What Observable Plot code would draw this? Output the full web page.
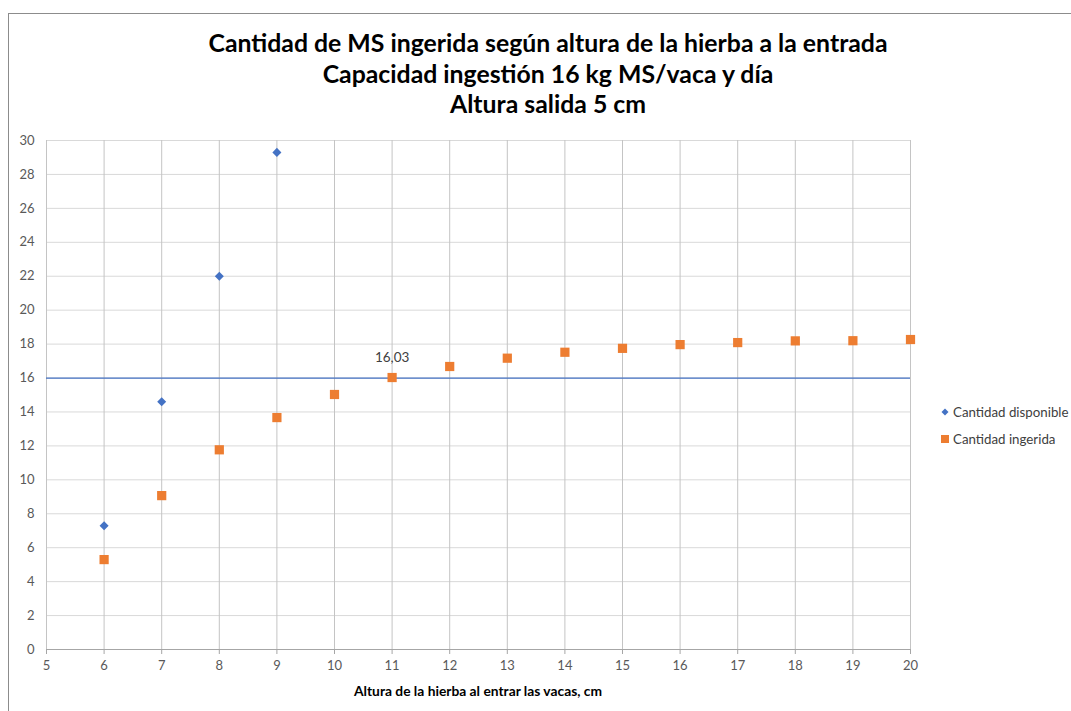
<!DOCTYPE html>
<html>
<head>
<meta charset="utf-8">
<script src="https://cdn.jsdelivr.net/npm/d3@7"></script>
<script src="https://cdn.jsdelivr.net/npm/@observablehq/plot@0.6"></script>
<style>
  html, body { margin: 0; padding: 0; background: #fff; }
  #wrap { position: relative; width: 1071px; height: 711px; overflow: hidden; font-family: Lato, "Open Sans", sans-serif; }
  #frame { position: absolute; left: 8px; top: 13px; right: -2px; bottom: -2px; border-left: 1px solid #8c8c8c; border-top: 1px solid #8c8c8c; }
  #title { position: absolute; left: 8px; width: 1080px; top: 28px; text-align: center; font-weight: bold; font-size: 24.8px; line-height: 30.5px; color: #000; }
  #chart { position: absolute; left: 0; top: 0; }
  #legend { position: absolute; left: 940px; top: 398px; font-size: 13.3px; color: #404040; }
  #legend div { height: 27px; display: flex; align-items: center; white-space: nowrap; }
  #legend svg { margin-right: 3px; }
  #xlabel { position: absolute; left: 46px; width: 864px; top: 682px; text-align: center; font-weight: bold; font-size: 13.8px; color: #000; }
</style>
</head>
<body>
<div id="wrap">
  <div id="frame"></div>
  <div id="title">Cantidad de MS ingerida según altura de la hierba a la entrada<br>Capacidad ingestión 16 kg MS/vaca y día<br>Altura salida 5 cm</div>
  <div id="chart"></div>
  <div id="legend"></div>
  <div id="xlabel">Altura de la hierba al entrar las vacas, cm</div>
</div>
<script>
// ---- data ----
const alturaDisponible = [6, 7, 8, 9];
const cantidadDisponible = [7.3, 14.6, 22.0, 29.3];

const alturaIngerida = [6, 7, 8, 9, 10, 11, 12, 13, 14, 15, 16, 17, 18, 19, 20];
const cantidadIngerida = [5.3, 9.07, 11.77, 13.67, 15.03, 16.03, 16.68, 17.17, 17.52, 17.75, 17.97, 18.09, 18.19, 18.2, 18.27];

const capacidad = 16;
const etiquetaValor = "16,03";
const etiquetaX = 11;

const xTicks = [5, 6, 7, 8, 9, 10, 11, 12, 13, 14, 15, 16, 17, 18, 19, 20];
const yTicks = [0, 2, 4, 6, 8, 10, 12, 14, 16, 18, 20, 22, 24, 26, 28, 30];

const seriesNames = ["Cantidad disponible", "Cantidad ingerida"];
const seriesColors = ["#4472c4", "#ed7d31"];

// ---- build ----
const disponible = alturaDisponible.map((x, i) => ({x, y: cantidadDisponible[i]}));
const ingerida = alturaIngerida.map((x, i) => ({x, y: cantidadIngerida[i]}));

const diamondSymbol = {
  draw(ctx, size) {
    const h = Math.sqrt(size / 2);
    ctx.moveTo(0, -h); ctx.lineTo(h, 0); ctx.lineTo(0, h); ctx.lineTo(-h, 0); ctx.closePath();
  }
};

const chart = Plot.plot({
  width: 1071,
  height: 711,
  marginLeft: 46,
  marginRight: 161,
  marginTop: 140,
  marginBottom: 62,
  style: {fontFamily: "Lato, 'Open Sans', sans-serif", fontSize: "13px", color: "#595959", background: "transparent"},
  x: {domain: [5, 20], ticks: xTicks, label: null},
  y: {domain: [0, 30], ticks: yTicks, label: null},
  marks: [
    Plot.gridY(yTicks, {stroke: "#d9d9d9", strokeOpacity: 1}),
    Plot.gridX(xTicks, {stroke: "#c4c4c4", strokeOpacity: 1}),
    Plot.ruleY([0], {stroke: "#a6a6a6"}),
    Plot.axisX({ticks: xTicks, tickSize: 5, tickPadding: 6, stroke: "#a6a6a6", fill: "#595959", fontSize: 13}),
    Plot.axisY({ticks: yTicks, tickSize: 0, tickPadding: 12, fill: "#595959", fontSize: 13}),
    Plot.ruleY([capacidad], {x1: 5, x2: 20, stroke: "#4472c4", strokeWidth: 1.2}),
    Plot.dot(disponible, {x: "x", y: "y", symbol: diamondSymbol, r: 3.6, fill: seriesColors[0], stroke: "none"}),
    Plot.dot(ingerida, {x: "x", y: "y", symbol: "square", r: 5.2, fill: seriesColors[1], stroke: "none"}),
    Plot.text([{x: etiquetaX, y: cantidadIngerida[alturaIngerida.indexOf(etiquetaX)]}], {x: "x", y: "y", text: () => etiquetaValor, dy: -20, fill: "#404040", fontSize: 13.5})
  ]
});
document.getElementById("chart").appendChild(chart);

// ---- legend ----
const legend = document.getElementById("legend");
seriesNames.forEach((name, i) => {
  const row = document.createElement("div");
  const shape = i === 0
    ? `<svg width="10" height="10"><path d="M5,1.5L8.5,5L5,8.5L1.5,5Z" fill="${seriesColors[i]}"/></svg>`
    : `<svg width="10" height="10"><rect x="1" y="1" width="8" height="8" fill="${seriesColors[i]}"/></svg>`;
  row.innerHTML = shape + `<span>${name}</span>`;
  legend.appendChild(row);
});
</script>
</body>
</html>
